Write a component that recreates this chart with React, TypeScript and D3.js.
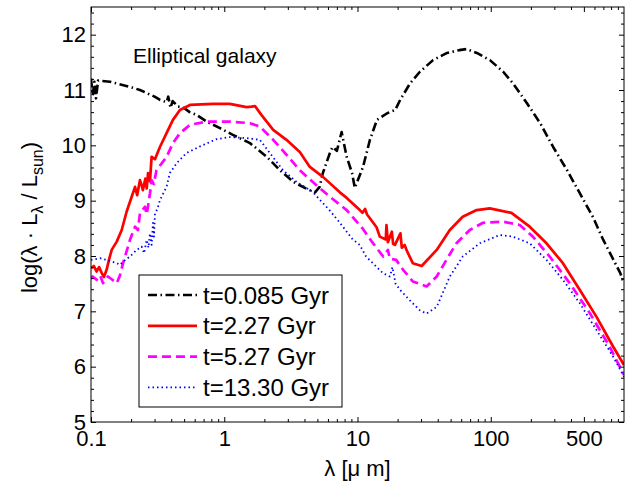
import React, { useEffect, useRef } from 'react';
import * as d3 from 'd3';

// tick labels
const xTicks = [0.1, 1, 10, 100, 500];
const yTicks = [5, 6, 7, 8, 9, 10, 11, 12];
const seriesNames = ['t=0.085 Gyr', 't=2.27 Gyr', 't=5.27 Gyr', 't=13.30 Gyr'];

// t = 0.085 Gyr
const lam085 = [0.1, 0.103, 0.106, 0.109, 0.113, 0.139, 0.2, 0.233, 0.3, 0.33, 0.37, 0.38, 0.395, 0.41, 0.45, 0.49, 0.55, 0.62, 0.75, 0.93, 1.16, 1.56, 2.09, 2.62, 3.3, 4.17, 4.8, 5.2, 5.5, 6.2, 6.5, 7.0, 7.6, 8.3, 9.1, 9.55, 11, 12.4, 14, 16.7, 19.2, 20.9, 24.8, 29.4, 36.9, 47, 58, 66, 78.6, 98.5, 124, 147, 187, 235, 294, 374, 467, 586, 699, 938, 1000];
const sed085 = [11.21, 10.9, 11.15, 10.85, 11.17, 11.15, 11.05, 11.0, 10.88, 10.82, 10.78, 10.88, 10.68, 10.8, 10.7, 10.69, 10.6, 10.55, 10.42, 10.31, 10.19, 10.04, 9.79, 9.55, 9.34, 9.21, 9.15, 9.25, 9.5, 9.86, 9.97, 9.9, 10.24, 9.79, 9.5, 9.23, 9.61, 10.1, 10.46, 10.58, 10.64, 10.82, 11.12, 11.33, 11.54, 11.67, 11.72, 11.74, 11.67, 11.54, 11.33, 11.12, 10.76, 10.4, 9.97, 9.55, 9.13, 8.7, 8.29, 7.69, 7.5];

// t = 2.27 Gyr
const lam227 = [0.1, 0.105, 0.11, 0.115, 0.12, 0.125, 0.131, 0.137, 0.143, 0.156, 0.17, 0.185, 0.202, 0.214, 0.222, 0.233, 0.24, 0.245, 0.256, 0.262, 0.268, 0.277, 0.285, 0.302, 0.329, 0.369, 0.412, 0.465, 0.553, 0.82, 1.1, 1.47, 1.6, 1.7, 1.9, 2.33, 2.93, 3.69, 4.39, 5.5, 7.37, 8.3, 10.4, 10.9, 11.4, 11.8, 13.9, 14.7, 16.3, 16.5, 16.9, 18.1, 18.5, 19.1, 21, 21.5, 22.6, 23.3, 26, 30.3, 39.3, 49.3, 61.6, 78.4, 98.3, 143, 196, 262, 348, 465, 622, 830, 1000];
const sed227 = [7.78, 7.82, 7.72, 7.8, 7.7, 7.62, 7.75, 7.95, 8.11, 8.26, 8.47, 8.8, 9.07, 9.25, 9.1, 9.37, 9.28, 9.19, 9.4, 9.22, 9.5, 9.35, 9.79, 9.75, 9.97, 10.22, 10.46, 10.64, 10.73, 10.75, 10.75, 10.69, 10.7, 10.71, 10.55, 10.28, 10.1, 9.88, 9.61, 9.43, 9.15, 9.05, 8.83, 8.78, 8.85, 8.75, 8.52, 8.35, 8.3, 8.56, 8.25, 8.44, 8.22, 8.2, 8.41, 8.15, 8.2, 8.11, 7.87, 7.82, 8.11, 8.47, 8.71, 8.83, 8.86, 8.78, 8.53, 8.23, 7.87, 7.39, 6.9, 6.36, 6.03];

// t = 5.27 Gyr
const lam527 = [0.1, 0.103, 0.11, 0.117, 0.123, 0.134, 0.143, 0.156, 0.165, 0.174, 0.196, 0.214, 0.225, 0.233, 0.254, 0.262, 0.277, 0.285, 0.296, 0.31, 0.369, 0.412, 0.465, 0.553, 0.74, 1.1, 1.56, 1.85, 2.33, 2.93, 3.69, 4.6, 6.2, 8.3, 10.9, 12.9, 15.6, 16.9, 17.5, 19.5, 22, 26, 33, 39.3, 46.5, 55.3, 69.6, 87.5, 124, 165, 207, 277, 391, 553, 781, 1000];
const sed527 = [7.6, 7.63, 7.57, 7.65, 7.51, 7.63, 7.58, 7.51, 7.65, 7.87, 8.29, 8.53, 8.47, 8.77, 8.89, 8.75, 9.13, 9.37, 9.3, 9.55, 9.79, 10.04, 10.22, 10.37, 10.43, 10.43, 10.4, 10.34, 10.1, 9.83, 9.55, 9.34, 9.07, 8.83, 8.5, 8.25, 7.99, 8.11, 7.95, 7.93, 7.75, 7.54, 7.45, 7.63, 7.93, 8.23, 8.47, 8.6, 8.62, 8.56, 8.35, 7.99, 7.51, 6.97, 6.36, 5.85];

// t = 13.30 Gyr
const lam1330 = [0.1, 0.117, 0.131, 0.156, 0.165, 0.174, 0.196, 0.22, 0.24, 0.25, 0.262, 0.27, 0.277, 0.285, 0.292, 0.297, 0.302, 0.315, 0.329, 0.369, 0.391, 0.44, 0.52, 0.657, 0.87, 1.1, 1.47, 1.85, 2.2, 2.76, 3.49, 4.6, 6.2, 7.37, 9.2, 10.4, 11.6, 13.8, 15.5, 17.5, 18.3, 19.3, 20.8, 24.7, 29.3, 33, 39.3, 43.6, 49.3, 61.6, 82.7, 117, 146, 196, 262, 348, 465, 622, 830, 1000];
const sed1330 = [7.93, 7.96, 7.93, 7.87, 7.84, 7.9, 7.99, 8.11, 8.17, 8.05, 8.29, 8.15, 8.41, 8.2, 8.6, 8.35, 8.77, 8.85, 9.01, 9.25, 9.5, 9.68, 9.86, 9.98, 10.11, 10.15, 10.13, 10.1, 9.86, 9.55, 9.34, 9.16, 8.82, 8.6, 8.3, 8.2, 7.99, 7.81, 7.69, 7.63, 7.8, 7.5, 7.39, 7.2, 7.02, 6.96, 7.08, 7.33, 7.63, 7.99, 8.23, 8.38, 8.35, 8.23, 7.93, 7.57, 7.15, 6.66, 6.18, 5.82];

const font = "'Liberation Sans', Arial, Helvetica, sans-serif";

export default function App() {
  const svgRef = useRef<SVGSVGElement>(null);

  useEffect(() => {
    const svg = d3.select(svgRef.current);
    svg.selectAll('*').remove();

    const left = 91, right = 624, top = 7, bottom = 422;
    const x = d3.scaleLog().domain([0.1, 1000]).range([left, right]);
    const y = d3.scaleLinear().domain([5, 12.5]).range([bottom, top]);

    const series = [
      { name: seriesNames[0], lam: lam085, val: sed085, color: '#000000', width: 2.6, dash: '9,3.5,1.5,3.5' },
      { name: seriesNames[1], lam: lam227, val: sed227, color: '#ff0000', width: 2.7, dash: null },
      { name: seriesNames[2], lam: lam527, val: sed527, color: '#ff00ff', width: 2.7, dash: '9,5' },
      { name: seriesNames[3], lam: lam1330, val: sed1330, color: '#0000ff', width: 1.8, dash: '1.5,3' },
    ];

    svg.append('defs').append('clipPath').attr('id', 'plotclip')
      .append('rect').attr('x', left).attr('y', top)
      .attr('width', right - left).attr('height', bottom - top);

    // curves
    const line = d3.line<[number, number]>().x(d => x(d[0])).y(d => y(d[1]));
    const curves = svg.append('g').attr('clip-path', 'url(#plotclip)');
    series.forEach(s => {
      curves.append('path')
        .datum(d3.zip(s.lam, s.val) as [number, number][])
        .attr('d', line)
        .attr('fill', 'none')
        .attr('stroke', s.color)
        .attr('stroke-width', s.width)
        .attr('stroke-dasharray', s.dash)
        .attr('stroke-linejoin', 'round');
    });

    // minor tick values
    const minorX: number[] = [];
    [0.1, 1, 10, 100].forEach(d => {
      for (let k = 2; k <= 9; k++) {
        const v = +(d * k).toPrecision(3);
        if (!xTicks.includes(v)) minorX.push(v);
      }
    });
    const minorY = d3.range(5, 12.5001, 0.2).filter(v => Math.abs(v - Math.round(v)) > 1e-6);

    const styleAxis = (g: any) => {
      g.attr('font-family', font).attr('font-size', 22);
      g.selectAll('line').attr('stroke', '#000');
      g.selectAll('text').attr('fill', '#000');
      g.select('.domain').remove();
    };

    // axes, ticks inward
    svg.append('g').attr('transform', `translate(0,${bottom})`)
      .call(d3.axisBottom(x).tickValues(xTicks).tickSize(-5).tickSizeOuter(0).tickPadding(8).tickFormat(d => String(d)))
      .call(styleAxis);
    svg.append('g').attr('transform', `translate(0,${bottom})`)
      .call(d3.axisBottom(x).tickValues(minorX).tickSize(-3).tickFormat(() => ''))
      .call(styleAxis);
    svg.append('g').attr('transform', `translate(0,${top})`)
      .call(d3.axisTop(x).tickValues(xTicks).tickSize(-5).tickFormat(() => ''))
      .call(styleAxis);
    svg.append('g').attr('transform', `translate(0,${top})`)
      .call(d3.axisTop(x).tickValues(minorX).tickSize(-3).tickFormat(() => ''))
      .call(styleAxis);
    svg.append('g').attr('transform', `translate(${left},0)`)
      .call(d3.axisLeft(y).tickValues(yTicks).tickSize(-5).tickPadding(5).tickFormat(d => String(d)))
      .call(styleAxis);
    svg.append('g').attr('transform', `translate(${left},0)`)
      .call(d3.axisLeft(y).tickValues(minorY).tickSize(-3).tickFormat(() => ''))
      .call(styleAxis);
    svg.append('g').attr('transform', `translate(${right},0)`)
      .call(d3.axisRight(y).tickValues(yTicks).tickSize(-5).tickFormat(() => ''))
      .call(styleAxis);
    svg.append('g').attr('transform', `translate(${right},0)`)
      .call(d3.axisRight(y).tickValues(minorY).tickSize(-3).tickFormat(() => ''))
      .call(styleAxis);

    svg.append('rect')
      .attr('x', left).attr('y', top)
      .attr('width', right - left).attr('height', bottom - top)
      .attr('fill', 'none').attr('stroke', '#000').attr('stroke-width', 1);

    // title inside
    svg.append('text')
      .attr('x', 133).attr('y', 63)
      .attr('font-family', font).attr('font-size', 21)
      .text('Elliptical galaxy');

    // axis labels
    svg.append('text')
      .attr('x', (left + right) / 2).attr('y', 476)
      .attr('text-anchor', 'middle')
      .attr('font-family', font).attr('font-size', 22)
      .text('λ [μ m]');

    const yl = svg.append('text')
      .attr('transform', `translate(37,${(top + bottom) / 2 + 3}) rotate(-90)`)
      .attr('text-anchor', 'middle')
      .attr('font-family', font).attr('font-size', 22);
    yl.append('tspan').text('log(λ · L');
    yl.append('tspan').attr('dy', 6).attr('font-size', 16).text('λ');
    yl.append('tspan').attr('dy', -6).text(' / L');
    yl.append('tspan').attr('dy', 6).attr('font-size', 16).text('sun');
    yl.append('tspan').attr('dy', -6).text(')');

    // legend
    const lg = svg.append('g');
    lg.append('rect')
      .attr('x', 139).attr('y', 275).attr('width', 203).attr('height', 132)
      .attr('fill', '#fff').attr('stroke', '#000').attr('stroke-width', 1);
    series.forEach((s, i) => {
      const yc = 295 + i * 30.8;
      lg.append('line')
        .attr('x1', 148).attr('x2', 197).attr('y1', yc).attr('y2', yc)
        .attr('stroke', s.color).attr('stroke-width', s.width)
        .attr('stroke-dasharray', s.dash);
      lg.append('text')
        .attr('x', 203).attr('y', yc + 8.5)
        .attr('font-family', font).attr('font-size', 24)
        .text(s.name);
    });
  }, []);

  return (
    <svg ref={svgRef} width={633} height={483}
      style={{ position: 'absolute', left: 0, top: 0, background: '#fff' }} />
  );
}
